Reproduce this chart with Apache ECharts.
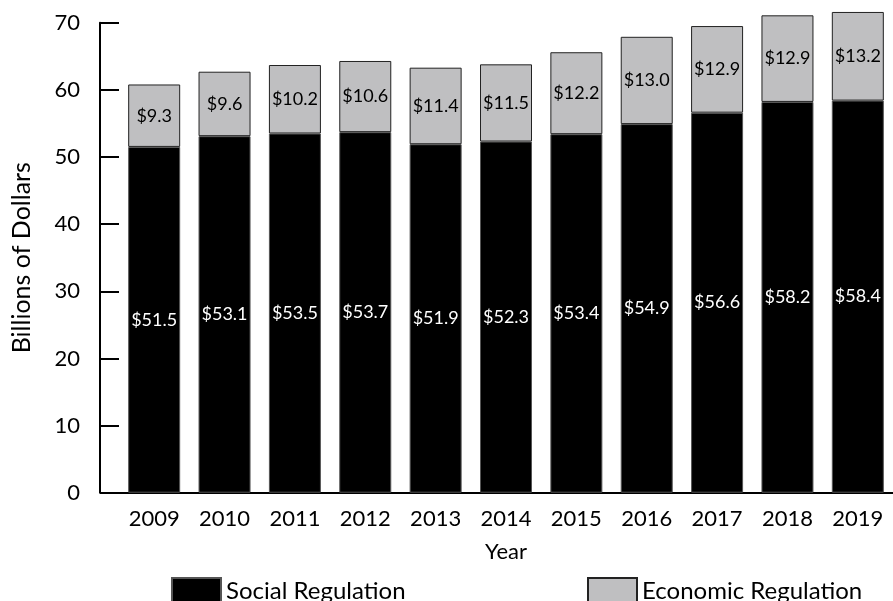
<!DOCTYPE html>
<html>
<head>
<meta charset="utf-8">
<script src="https://cdn.jsdelivr.net/npm/echarts@6/dist/echarts.min.js"></script>
<style>html,body{margin:0;padding:0;background:#fff}#c{width:893px;height:601px}</style>
</head>
<body>
<div id="c"></div>
<script>
var years = ['2009','2010','2011','2012','2013','2014','2015','2016','2017','2018','2019'];
var social = [51.5, 53.1, 53.5, 53.7, 51.9, 52.3, 53.4, 54.9, 56.6, 58.2, 58.4];
var economic = [9.3, 9.6, 10.2, 10.6, 11.4, 11.5, 12.2, 13.0, 12.9, 12.9, 13.2];
var yTicks = [0, 10, 20, 30, 40, 50, 60, 70];

var FONT = 'Lato, "Open Sans", sans-serif';
var chart = echarts.init(document.getElementById('c'), null, {renderer: 'canvas'});
chart.setOption({
  animation: false,
  textStyle: {fontFamily: FONT, color: '#000'},
  grid: {left: 119, top: 22.7, right: -6, bottom: 108.3, containLabel: false},
  legend: [
    {data: ['Social Regulation'], left: 166, top: 572, itemWidth: 49, itemHeight: 26, itemGap: 5,
     textStyle: {fontFamily: FONT, fontSize: 24, color: '#000'}, icon: 'rect'},
    {data: ['Economic Regulation'], left: 582, top: 572, itemWidth: 49, itemHeight: 26, itemGap: 5,
     textStyle: {fontFamily: FONT, fontSize: 24, color: '#000'}, icon: 'rect'}
  ],
  xAxis: {
    type: 'category',
    data: years,
    name: 'Year',
    nameLocation: 'middle',
    nameGap: 48,
    nameTextStyle: {fontFamily: FONT, fontSize: 22, color: '#000'},
    axisLine: {lineStyle: {color: '#000', width: 2}},
    axisTick: {inside: true, length: 11, lineStyle: {color: '#000', width: 2}},
    axisLabel: {fontFamily: FONT, fontSize: 22, color: '#000', margin: 15, interval: 0},
    splitLine: {show: false}
  },
  yAxis: {
    type: 'value',
    min: yTicks[0],
    max: yTicks[yTicks.length - 1],
    interval: 10,
    offset: 19,
    name: 'Billions of Dollars',
    nameLocation: 'middle',
    nameGap: 66,
    nameTextStyle: {fontFamily: FONT, fontSize: 25, color: '#000'},
    axisLine: {show: true, lineStyle: {color: '#000', width: 2}},
    axisTick: {show: true, inside: true, length: 19, lineStyle: {color: '#000', width: 2}},
    axisLabel: {fontFamily: FONT, fontSize: 22, color: '#000', margin: 20},
    splitLine: {show: false}
  },
  series: [
    {
      name: 'Social Regulation',
      type: 'bar',
      stack: 'total',
      data: social,
      barWidth: 52,
      clip: false,
      itemStyle: {color: '#000', borderColor: '#555', borderWidth: 1},
      label: {show: true, position: 'inside', color: '#fff', fontFamily: FONT, fontSize: 18,
              formatter: function (p) { return '$' + p.value.toFixed(1); }}
    },
    {
      name: 'Economic Regulation',
      type: 'bar',
      stack: 'total',
      data: economic,
      barWidth: 52,
      clip: false,
      itemStyle: {color: '#bfbfc1', borderColor: '#222', borderWidth: 1},
      label: {show: true, position: 'inside', color: '#000', fontFamily: FONT, fontSize: 18,
              formatter: function (p) { return '$' + p.value.toFixed(1); }}
    }
  ]
});
</script>
</body>
</html>
